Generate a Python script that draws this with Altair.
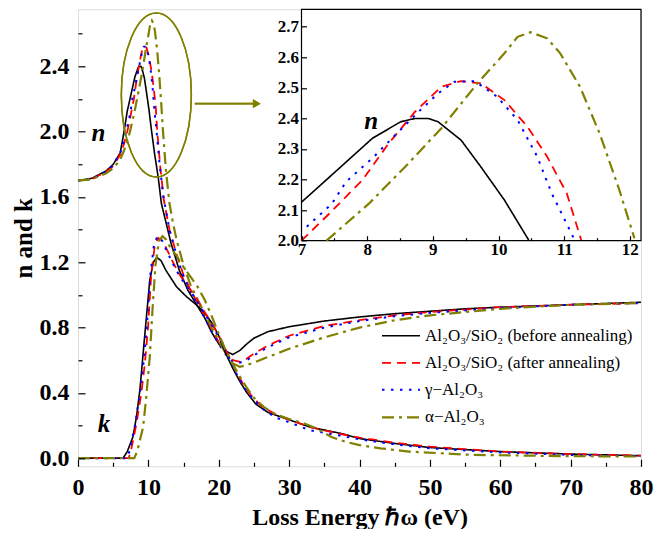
import altair as alt
import pandas as pd

SERIF = "Liberation Serif"
OLIVE = "#808000"

series_names = ["Al₂O₃/SiO₂ (before annealing)", "Al₂O₃/SiO₂ (after annealing)", "γ−Al₂O₃", "α−Al₂O₃"]
series_colors = ["#000000", "#ff0000", "#0000ff", OLIVE]
series_dash = [[1, 0], [9, 6], [2.5, 6.5], [12, 5, 3, 5]]
series_width = [1.6, 2.2, 2.6, 3.2]

# ---- refractive index n ----
n_before_E = [0, 2, 4, 5, 6, 6.5, 7.0, 7.43, 8.08, 8.51, 8.73, 8.93, 9.08, 9.43, 9.73, 10.09, 10.46, 10.9, 11.4, 11.85, 12.3, 13.2, 14.4, 15.6, 17.0, 18.0, 19.0, 20.0, 21.0, 22.0, 23.0, 24.0, 25.0, 27.0, 30.0, 35.0, 40.0, 45.0, 50.0, 55.0, 60.0, 70.0, 80.0]
n_before_v = [1.70, 1.715, 1.76, 1.80, 1.87, 1.99, 2.126, 2.209, 2.335, 2.389, 2.400, 2.400, 2.389, 2.329, 2.242, 2.133, 2.002, 1.86, 1.72, 1.56, 1.48, 1.32, 1.15, 1.03, 0.93, 0.86, 0.77, 0.70, 0.655, 0.635, 0.66, 0.70, 0.735, 0.775, 0.805, 0.84, 0.865, 0.885, 0.90, 0.915, 0.925, 0.94, 0.955]

n_after_E = [0, 2, 4, 5, 6, 6.5, 7.0, 7.43, 7.93, 8.33, 8.73, 9.13, 9.43, 9.73, 10.09, 10.44, 10.74, 11.04, 11.26, 11.7, 12.2, 13.0, 14.0, 15.0, 16.0, 17.0, 18.0, 19.0, 20.0, 21.0, 22.0, 23.0, 24.0, 25.0, 27.0, 30.0, 35.0, 40.0, 45.0, 50.0, 60.0, 70.0, 80.0]
n_after_v = [1.70, 1.71, 1.755, 1.79, 1.86, 1.92, 2.0, 2.09, 2.199, 2.319, 2.422, 2.504, 2.522, 2.515, 2.46, 2.373, 2.275, 2.155, 2.002, 1.78, 1.58, 1.40, 1.25, 1.12, 1.03, 0.95, 0.87, 0.79, 0.71, 0.645, 0.60, 0.59, 0.61, 0.64, 0.69, 0.75, 0.81, 0.845, 0.875, 0.895, 0.925, 0.94, 0.95]

n_gamma_E = [0, 2, 4, 5, 6, 6.5, 7.08, 7.46, 7.68, 8.08, 8.43, 8.76, 9.08, 9.33, 9.64, 9.98, 10.29, 10.59, 10.81, 11.16, 11.6, 12.1, 13.0, 14.0, 15.0, 16.0, 17.0, 18.0, 19.0, 20.0, 21.0, 22.0, 23.0, 24.0, 25.0, 27.0, 30.0, 35.0, 40.0, 45.0, 50.0, 60.0, 70.0, 80.0]
n_gamma_v = [1.70, 1.71, 1.755, 1.795, 1.87, 1.94, 2.046, 2.12, 2.193, 2.27, 2.346, 2.417, 2.482, 2.52, 2.522, 2.471, 2.395, 2.275, 2.155, 2.002, 1.80, 1.61, 1.40, 1.24, 1.11, 1.02, 0.94, 0.86, 0.78, 0.70, 0.635, 0.59, 0.585, 0.60, 0.63, 0.68, 0.74, 0.80, 0.84, 0.87, 0.89, 0.92, 0.94, 0.95]

n_alpha_E = [0, 2, 4, 5, 6, 6.5, 7.0, 7.38, 8.03, 8.58, 9.13, 9.68, 10.09, 10.29, 10.49, 10.74, 10.94, 11.24, 11.54, 11.84, 12.07, 12.5, 13.0, 13.5, 14.0, 15.0, 16.0, 17.0, 18.0, 19.0, 20.0, 21.0, 22.0, 23.0, 24.0, 25.0, 27.0, 30.0, 35.0, 40.0, 45.0, 50.0, 55.0, 60.0, 70.0, 80.0]
n_alpha_v = [1.70, 1.71, 1.745, 1.775, 1.83, 1.88, 1.94, 2.0, 2.122, 2.242, 2.368, 2.515, 2.613, 2.667, 2.682, 2.662, 2.613, 2.504, 2.351, 2.166, 2.008, 1.76, 1.56, 1.44, 1.34, 1.18, 1.06, 0.97, 0.89, 0.80, 0.72, 0.64, 0.58, 0.56, 0.57, 0.585, 0.62, 0.67, 0.74, 0.80, 0.845, 0.875, 0.895, 0.915, 0.94, 0.95]

# ---- extinction coefficient k ----
k_before_E = [0, 6.4, 7.0, 7.8, 8.3, 8.8, 9.5, 10.2, 10.7, 11.2, 11.8, 12.5, 14.0, 15.4, 16.8, 18.0, 19.0, 20.0, 21.0, 22.0, 23.0, 24.0, 25.3, 27.0, 30.0, 33.0, 37.5, 40.0, 45.0, 50.0, 60.0, 70.0, 80.0]
k_before_v = [0, 0, 0.04, 0.13, 0.25, 0.42, 0.76, 1.09, 1.20, 1.23, 1.21, 1.15, 1.05, 0.99, 0.94, 0.89, 0.83, 0.75, 0.64, 0.55, 0.47, 0.40, 0.33, 0.28, 0.235, 0.19, 0.15, 0.12, 0.09, 0.065, 0.04, 0.025, 0.015]

k_after_E = [0, 7.2, 7.5, 8.3, 9.0, 9.5, 9.95, 10.4, 10.9, 11.4, 12.0, 12.5, 13.5, 14.5, 15.5, 16.5, 17.5, 18.5, 19.5, 20.5, 21.5, 22.5, 23.5, 24.5, 26.0, 28.0, 30.0, 33.0, 37.0, 40.0, 45.0, 50.0, 60.0, 70.0, 80.0]
k_after_v = [0, 0, 0.04, 0.21, 0.40, 0.58, 0.80, 1.12, 1.30, 1.35, 1.33, 1.29, 1.20, 1.12, 1.06, 1.00, 0.93, 0.86, 0.79, 0.71, 0.62, 0.53, 0.45, 0.39, 0.32, 0.27, 0.235, 0.19, 0.15, 0.125, 0.095, 0.07, 0.04, 0.025, 0.015]

k_gamma_E = [0, 7.0, 7.3, 8.1, 8.8, 9.3, 9.8, 10.3, 10.8, 11.3, 12.0, 12.5, 13.5, 14.5, 15.5, 16.5, 17.5, 18.5, 19.5, 20.5, 21.5, 22.5, 23.5, 24.5, 26.0, 28.0, 30.0, 33.0, 37.0, 40.0, 45.0, 50.0, 60.0, 70.0, 80.0]
k_gamma_v = [0, 0, 0.04, 0.20, 0.40, 0.58, 0.82, 1.13, 1.31, 1.36, 1.33, 1.28, 1.19, 1.11, 1.05, 0.99, 0.92, 0.85, 0.78, 0.70, 0.61, 0.52, 0.44, 0.38, 0.31, 0.25, 0.22, 0.17, 0.14, 0.115, 0.085, 0.06, 0.035, 0.02, 0.012]

k_alpha_E = [0, 8.0, 8.4, 9.25, 9.7, 10.2, 10.6, 11.0, 11.5, 12.0, 12.5, 13.0, 14.0, 15.0, 16.0, 17.0, 18.0, 19.0, 20.0, 21.0, 22.0, 23.0, 24.0, 25.0, 26.5, 28.0, 30.0, 32.0, 34.0, 36.0, 38.0, 40.0, 43.0, 47.0, 56.0, 70.0, 80.0]
k_alpha_v = [0, 0, 0.04, 0.19, 0.375, 0.62, 0.92, 1.18, 1.33, 1.36, 1.34, 1.30, 1.24, 1.17, 1.11, 1.05, 0.97, 0.87, 0.76, 0.66, 0.575, 0.50, 0.43, 0.37, 0.31, 0.27, 0.24, 0.215, 0.18, 0.13, 0.10, 0.08, 0.06, 0.04, 0.02, 0.012, 0.01]

curves = [
    (series_names[0], "n", n_before_E, n_before_v),
    (series_names[1], "n", n_after_E, n_after_v),
    (series_names[2], "n", n_gamma_E, n_gamma_v),
    (series_names[3], "n", n_alpha_E, n_alpha_v),
    (series_names[0], "k", k_before_E, k_before_v),
    (series_names[1], "k", k_after_E, k_after_v),
    (series_names[2], "k", k_gamma_E, k_gamma_v),
    (series_names[3], "k", k_alpha_E, k_alpha_v),
]
rows = []
for s, q, es, vs in curves:
    for e, v in zip(es, vs):
        rows.append({"series": s, "q": q, "E": e, "v": v})
df = pd.DataFrame(rows)

# annotation texts
main_labels = pd.DataFrame({"t": ["n", "k"], "E": [2.9, 3.7], "v": [1.99, 0.21]})
inset_labels = pd.DataFrame({"t": ["n"], "E": [8.06], "v": [2.39]})

W, H = 563, 457
IN_LEFT, IN_BOTTOM = 223.5, 231.4   # inset placement inside the plot (px)

x_main = alt.Scale(domain=[0, 80], nice=False, zero=False)
y_main = alt.Scale(domain=[-0.05, 2.75], nice=False, zero=False)
x_in = alt.Scale(domain=[7, 12.17], range=[IN_LEFT, W], nice=False, zero=False)
y_in = alt.Scale(domain=[2.0, 2.757], range=[IN_BOTTOM, 0], nice=False, zero=False)

color_sc = alt.Scale(domain=series_names, range=series_colors)
dash_sc = alt.Scale(domain=series_names, range=series_dash)
width_sc = alt.Scale(domain=series_names, range=series_width)

legend = alt.Legend(
    title=None, orient="none", legendX=312, legendY=316, padding=0,
    symbolType="M-2,0L2,0", symbolSize=361, labelOffset=13,
    labelFont=SERIF, labelFontSize=17, labelColor="black", labelLimit=400,
    rowPadding=8,
)

common_lab = dict(labelFont=SERIF, labelFontWeight="bold", labelColor="black",
                  tickColor="black", tickWidth=1.2, domain=False, grid=False,
                  labelFlush=False, labelOverlap=False, zindex=2)

x_major = alt.Axis(orient="bottom", values=list(range(0, 81, 10)), format="d",
                   offset=-7, tickSize=7, labelFontSize=24, labelPadding=9,
                   title="Loss Energy ℏω (eV)", titleFont=SERIF, titleFontSize=24,
                   titleFontWeight="bold", titleColor="black", titlePadding=6,
                   **common_lab)
y_major = alt.Axis(orient="left", values=[0, 0.4, 0.8, 1.2, 1.6, 2.0, 2.4], format=".1f",
                   offset=-7, tickSize=7, labelFontSize=24, labelPadding=9,
                   title="n and k", titleFont=SERIF, titleFontSize=25,
                   titleFontWeight="bold", titleColor="black", titlePadding=3,
                   **common_lab)
x_minor = alt.Axis(orient="bottom", values=list(range(5, 80, 10)), offset=-4, tickSize=4,
                   labels=False, title=None, **common_lab)
y_minor = alt.Axis(orient="left", values=[0.2, 0.6, 1.0, 1.4, 1.8, 2.2, 2.6], offset=-4,
                   tickSize=4, labels=False, title=None, **common_lab)

ix_major = alt.Axis(orient="bottom", values=[7, 8, 9, 10, 11, 12], format="d",
                    offset=-(H - IN_BOTTOM) - 5, tickSize=5, labelFontSize=17,
                    labelPadding=1, title=None, **common_lab)
ix_minor = alt.Axis(orient="bottom", values=[7.5, 8.5, 9.5, 10.5, 11.5],
                    offset=-(H - IN_BOTTOM) - 3, tickSize=3, labels=False, title=None,
                    **common_lab)
iy_major = alt.Axis(orient="left", values=[2.0, 2.1, 2.2, 2.3, 2.4, 2.5, 2.6, 2.7],
                    format=".1f", offset=-IN_LEFT - 5, tickSize=5, labelFontSize=17,
                    labelPadding=3, title=None, **common_lab)

series_enc = dict(
    color=alt.Color("series:N", scale=color_sc, legend=legend),
    strokeDash=alt.StrokeDash("series:N", scale=dash_sc, legend=legend),
    strokeWidth=alt.StrokeWidth("series:N", scale=width_sc, legend=legend),
)

lines = alt.Chart(df).mark_line().encode(
    x=alt.X("E:Q", scale=x_main, axis=x_major),
    y=alt.Y("v:Q", scale=y_main, axis=y_major),
    detail="q:N",
    **series_enc,
)

ellipse = alt.Chart(main_labels).mark_point(
    shape="M0,-1A0.427,1,0,1,1,0,1A0.427,1,0,1,1,0,-1Z",
    size=26896, filled=False, stroke=OLIVE, strokeWidth=1.5, opacity=1,
).encode(
    x=alt.X(datum=11.13, scale=x_main, axis=None),
    y=alt.Y(datum=2.225, scale=y_main, axis=None),
)

arrow_line = alt.Chart(main_labels).mark_rule(color=OLIVE, strokeWidth=1.6).encode(
    x=alt.X(datum=16.6, scale=x_main, axis=None),
    x2=alt.X2(datum=25.3),
    y=alt.Y(datum=2.172, scale=y_main, axis=None),
)
arrow_head = alt.Chart(main_labels).mark_point(
    shape="triangle-right", filled=True, color=OLIVE, size=80, opacity=1
).encode(
    x=alt.X(datum=25.4, scale=x_main, axis=None),
    y=alt.Y(datum=2.172, scale=y_main, axis=None),
)

main_text = alt.Chart(main_labels).mark_text(
    font=SERIF, fontSize=25, fontStyle="italic", fontWeight="bold", color="black"
).encode(
    x=alt.X("E:Q", scale=x_main, axis=x_minor),
    y=alt.Y("v:Q", scale=y_main, axis=y_minor),
    text="t:N",
)

main_part = alt.layer(lines, ellipse, arrow_line, arrow_head, main_text).resolve_axis(
    x="independent", y="independent")

inset_box = alt.Chart(inset_labels).mark_rect(fill="white", stroke="black", strokeWidth=1.2).encode(
    x=alt.X(datum=7, scale=x_in, axis=ix_minor),
    x2=alt.X2(datum=12.17),
    y=alt.Y(datum=2.0, scale=y_in, axis=None),
    y2=alt.Y2(datum=2.757),
)

inset_lines = alt.Chart(df).transform_filter(
    (alt.datum.q == "n") & (alt.datum.E >= 7) & (alt.datum.E <= 12.17) & (alt.datum.v >= 1.99)
).mark_line().encode(
    x=alt.X("E:Q", scale=x_in, axis=ix_major),
    y=alt.Y("v:Q", scale=y_in, axis=iy_major),
    **series_enc,
)

inset_text = alt.Chart(inset_labels).mark_text(
    font=SERIF, fontSize=25, fontStyle="italic", fontWeight="bold", color="black"
).encode(
    x=alt.X("E:Q", scale=x_in, axis=None),
    y=alt.Y("v:Q", scale=y_in, axis=None),
    text="t:N",
)

inset_part = alt.layer(inset_box, inset_lines, inset_text).resolve_axis(
    x="independent", y="independent")

chart = alt.layer(main_part, inset_part).resolve_scale(
    x="independent", y="independent"
).properties(
    width=W, height=H,
    autosize=alt.AutoSizeParams(type="none"),
    padding={"left": 70, "top": 1.3, "right": 13, "bottom": 63},
).configure_view(stroke="black", strokeWidth=1.2).configure(background="white")

chart.save("out.html", embed_options={"renderer": "svg", "actions": False})
